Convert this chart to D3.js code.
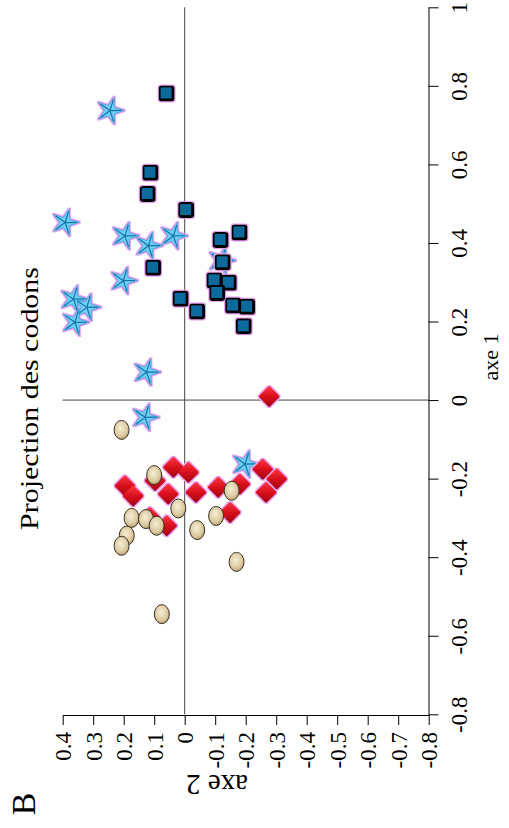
<!DOCTYPE html>
<html>
<head>
<meta charset="utf-8">
<script src="https://cdn.jsdelivr.net/npm/d3@7"></script>
<style>
  body { margin: 0; background: #fff; }
  svg { display: block; }
  text { font-family: "Liberation Serif", "Times New Roman", serif; fill: #000; }
</style>
</head>
<body>
<svg width="509" height="828"></svg>
<script>
// tick labels
const axe2Ticks = [0.4, 0.3, 0.2, 0.1, 0, -0.1, -0.2, -0.3, -0.4, -0.5, -0.6, -0.7, -0.8];
const axe1Ticks = [-0.8, -0.6, -0.4, -0.2, 0, 0.2, 0.4, 0.6, 0.8, 1];

// points: [axe2, axe1]
const stars = [
  [0.245, 0.737], [0.392, 0.452], [0.196, 0.418], [0.119, 0.393], [0.037, 0.418],
  [-0.121, 0.355], [0.201, 0.304], [0.365, 0.257], [0.321, 0.236], [0.360, 0.198],
  [0.125, 0.071], [0.130, -0.044], [-0.198, -0.163]
];
const squares = [
  [0.061, 0.782], [0.114, 0.580], [0.123, 0.526], [-0.003, 0.485], [-0.178, 0.428],
  [-0.116, 0.409], [-0.123, 0.352], [0.105, 0.338], [-0.096, 0.306], [-0.143, 0.300],
  [-0.105, 0.274], [0.015, 0.259], [-0.157, 0.242], [-0.203, 0.239], [-0.039, 0.227],
  [-0.192, 0.189]
];
const diamonds = [
  [-0.277, 0.009], [0.037, -0.171], [-0.012, -0.184], [0.097, -0.205], [0.196, -0.218],
  [0.169, -0.244], [0.054, -0.239], [-0.037, -0.235], [-0.110, -0.222], [-0.181, -0.214],
  [-0.256, -0.176], [-0.302, -0.201], [-0.267, -0.235], [-0.149, -0.286], [0.059, -0.320],
  [0.114, -0.299]
];
const circles = [
  [0.207, -0.076], [0.100, -0.191], [-0.154, -0.231], [0.021, -0.276], [-0.103, -0.295],
  [0.174, -0.300], [0.127, -0.303], [0.092, -0.320], [-0.041, -0.331], [0.190, -0.345],
  [0.207, -0.371], [-0.170, -0.412], [0.075, -0.545]
];

const svg = d3.select("svg");
const fmt = d => String(+d.toFixed(1));

const x = d3.scaleLinear().domain([0.4, -0.8]).range([62.7, 428.7]);
const y = d3.scaleLinear().domain([-0.8, 1]).range([714.3, 7.3]);

// defs: glow + gradients
const defs = svg.append("defs");
const glow = defs.append("filter").attr("id", "glow")
  .attr("x", "-30%").attr("y", "-30%").attr("width", "160%").attr("height", "160%");
glow.append("feMorphology").attr("in", "SourceAlpha").attr("operator", "dilate").attr("radius", 1.2).attr("result", "d");
glow.append("feFlood").attr("flood-color", "#e9a3f2").attr("result", "c");
glow.append("feComposite").attr("in", "c").attr("in2", "d").attr("operator", "in").attr("result", "o");
const m = glow.append("feMerge");
m.append("feMergeNode").attr("in", "o");
m.append("feMergeNode").attr("in", "SourceGraphic");

const red = defs.append("linearGradient").attr("id", "red")
  .attr("x1", 0).attr("y1", 0).attr("x2", 1).attr("y2", 1);
red.append("stop").attr("offset", "0%").attr("stop-color", "#ff3a46");
red.append("stop").attr("offset", "50%").attr("stop-color", "#d8101c");
red.append("stop").attr("offset", "100%").attr("stop-color", "#a00010");

const tan = defs.append("radialGradient").attr("id", "tan")
  .attr("cx", "45%").attr("cy", "40%").attr("r", "60%");
tan.append("stop").attr("offset", "0%").attr("stop-color", "#f6eed6");
tan.append("stop").attr("offset", "70%").attr("stop-color", "#dccaa0");
tan.append("stop").attr("offset", "100%").attr("stop-color", "#b89e70");

// reference lines through 0
svg.append("line")
  .attr("x1", x(0)).attr("x2", x(0))
  .attr("y1", y(1)).attr("y2", y(-0.8))
  .attr("stroke", "#444").attr("stroke-width", 1);
svg.append("line")
  .attr("x1", x(0.4)).attr("x2", x(-0.8))
  .attr("y1", y(0)).attr("y2", y(0))
  .attr("stroke", "#444").attr("stroke-width", 1);

// axe 2 (bottom)
const xAxis = d3.axisBottom(x).tickValues(axe2Ticks).tickFormat(fmt).tickSize(10).tickSizeOuter(0);
const gx = svg.append("g").attr("transform", "translate(0,715)").call(xAxis);
gx.selectAll("text")
  .attr("x", 0).attr("y", 0).attr("dy", null)
  .attr("transform", "translate(8,17) rotate(-90)")
  .attr("text-anchor", "end")
  .style("font-size", "23px").style("font-family", "Liberation Serif");

// axe 1 (right)
const yAxis = d3.axisRight(y).tickValues(axe1Ticks).tickFormat(fmt).tickSize(10).tickSizeOuter(0);
const gy = svg.append("g").attr("transform", "translate(428.5,0)").call(yAxis);
gy.selectAll("text")
  .attr("x", 0).attr("y", 0).attr("dy", null)
  .attr("transform", "translate(38,0) rotate(-90)")
  .attr("text-anchor", "middle")
  .style("font-size", "23px").style("font-family", "Liberation Serif");

svg.selectAll(".domain, .tick line").attr("stroke", "#000");

// stars
const starPts = [];
for (let i = 0; i < 10; i++) {
  starPts.push([i * Math.PI / 5 + 0.3, i % 2 ? 5.6 : 14.5]);
}
const starLine = d3.lineRadial().curve(d3.curveLinearClosed);
const gs = svg.append("g").attr("filter", "url(#glow)")
  .selectAll("g").data(stars).join("g")
  .attr("transform", d => `translate(${x(d[0])},${y(d[1])})`);
gs.append("path").attr("d", starLine(starPts))
  .attr("fill", "#6dd0f4").attr("stroke", "#2f98cf").attr("stroke-width", 0.8);
gs.selectAll("line").data(starPts.filter((p, i) => i % 2 === 0)).join("line")
  .attr("x1", 0).attr("y1", 0)
  .attr("x2", p => Math.sin(p[0]) * p[1] * 0.8)
  .attr("y2", p => -Math.cos(p[0]) * p[1] * 0.8)
  .attr("stroke", "#1672a8").attr("stroke-width", 1.2);

// squares
const gq = svg.append("g").attr("filter", "url(#glow)")
  .selectAll("g").data(squares).join("g")
  .attr("transform", d => `translate(${x(d[0])},${y(d[1])})`);
gq.append("rect").attr("x", -7.5).attr("y", -7.5).attr("width", 16).attr("height", 16)
  .attr("rx", 3).attr("fill", "#050505");
gq.append("rect").attr("x", -5.5).attr("y", -5.5).attr("width", 11).attr("height", 11)
  .attr("fill", "#0b6a9c");

// diamonds
svg.append("g").attr("filter", "url(#glow)")
  .selectAll("rect").data(diamonds).join("rect")
  .attr("x", -7.8).attr("y", -7.8).attr("width", 15.6).attr("height", 15.6).attr("rx", 1.5)
  .attr("transform", d => `translate(${x(d[0])},${y(d[1])}) rotate(45)`)
  .attr("fill", "url(#red)");

// circles
svg.append("g").selectAll("ellipse").data(circles).join("ellipse")
  .attr("cx", d => x(d[0])).attr("cy", d => y(d[1]))
  .attr("rx", 7.5).attr("ry", 9.5)
  .attr("fill", "url(#tan)").attr("stroke", "#3a3226").attr("stroke-width", 1);

// titles
svg.append("text")
  .attr("transform", "translate(38,398.5) rotate(-90)")
  .attr("text-anchor", "middle")
  .attr("textLength", 263).attr("lengthAdjust", "spacingAndGlyphs")
  .style("font-size", "26px")
  .text("Projection des codons");

svg.append("text")
  .attr("transform", "translate(498,357) rotate(-90)")
  .attr("text-anchor", "middle")
  .style("font-size", "22px")
  .text("axe 1");

svg.append("text")
  .attr("transform", "translate(217,775) rotate(180)")
  .attr("text-anchor", "middle")
  .style("font-size", "29px")
  .text("axe 2");

svg.append("text")
  .attr("transform", "translate(35,804) rotate(-90)")
  .attr("text-anchor", "middle")
  .style("font-size", "34px")
  .text("B");
</script>
</body>
</html>
